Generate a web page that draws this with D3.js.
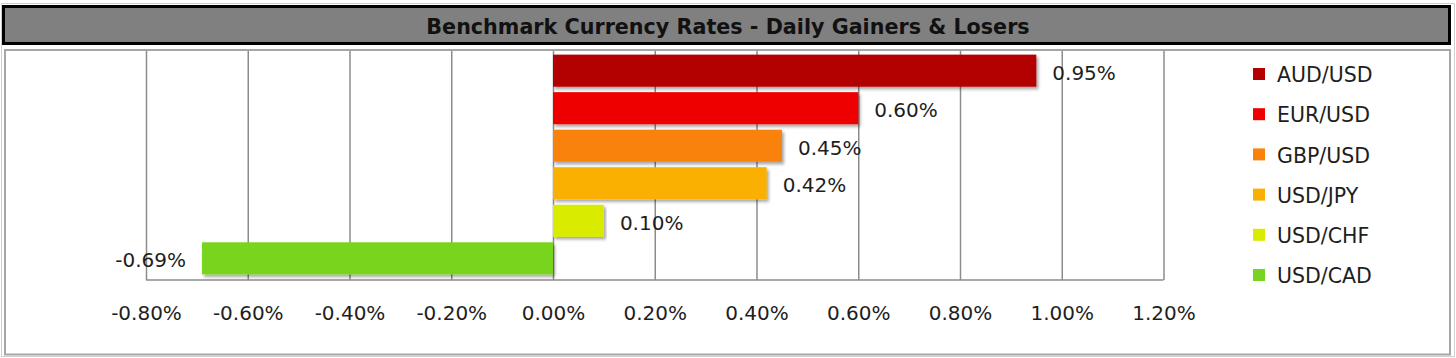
<!DOCTYPE html>
<html>
<head>
<meta charset="utf-8">
<script src="https://cdn.jsdelivr.net/npm/d3@7"></script>
<style>
    body { margin: 0; background: #fff; }
    text { font-family: "DejaVu Sans", Verdana, sans-serif; fill: #1e1e1e; }
</style>
</head>
<body>
<div id="chart"></div>
<script>
const TITLE = "Benchmark Currency Rates - Daily Gainers & Losers";
const pairs = ["AUD/USD", "EUR/USD", "GBP/USD", "USD/JPY", "USD/CHF", "USD/CAD"];
const changes = [0.0095, 0.0060, 0.0045, 0.0042, 0.0010, -0.0069];
const colors = ["#b30000", "#ee0000", "#f9820a", "#f9b000", "#d9ec00", "#78d41e"];
const xTicks = [-0.008, -0.006, -0.004, -0.002, 0, 0.002, 0.004, 0.006, 0.008, 0.010, 0.012];

const W = 1456, H = 358;
const PLOT = {left: 146, right: 1163.5, top: 51, bottom: 280};

// excel style percent, plain hyphen for negatives
const pct = d => d3.format('.2%')(d).replace('\u2212', '-');

const svg = d3.select('#chart')
    .append('svg')
    .attr('width', W)
    .attr('height', H);

// soft drop shadow under the bars
const defs = svg.append('defs');
defs.append('filter')
    .attr('id', 'shadow')
    .attr('x', '-5%').attr('y', '-20%')
    .attr('width', '110%').attr('height', '160%')
    .append('feDropShadow')
    .attr('dx', 2).attr('dy', 2.5)
    .attr('stdDeviation', 1.6)
    .attr('flood-color', '#000')
    .attr('flood-opacity', 0.35);

// outer frame
svg.append('rect')
    .attr('x', 1.5).attr('y', 3.5)
    .attr('width', 1453).attr('height', 353)
    .attr('fill', 'none')
    .attr('stroke', '#d0d0d0');

// plot panel
svg.append('rect')
    .attr('x', 5).attr('y', 50)
    .attr('width', 1445).attr('height', 304.5)
    .attr('fill', '#fff')
    .attr('stroke', '#a6a6a6')
    .attr('stroke-width', 2);

// title bar
svg.append('rect')
    .attr('x', 3.5).attr('y', 6.5)
    .attr('width', 1446).attr('height', 37)
    .attr('fill', '#808080')
    .attr('stroke', '#000')
    .attr('stroke-width', 3);

svg.append('text')
    .attr('x', 728)
    .attr('y', 34)
    .attr('text-anchor', 'middle')
    .style('font-weight', 'bold')
    .style('font-size', '20.7px')
    .style('fill', '#111')
    .text(TITLE);

const x = d3.scaleLinear()
    .domain([d3.min(xTicks), d3.max(xTicks)])
    .range([PLOT.left, PLOT.right]);

const y = d3.scaleBand()
    .domain(pairs)
    .range([52, 277])
    .paddingInner(0.145)
    .paddingOuter(0.07);

// vertical gridlines
svg.append('g')
    .attr('class', 'grid')
    .attr('transform', 'translate(0,' + PLOT.bottom + ')')
    .call(d3.axisBottom(x).tickValues(xTicks).tickSize(-(PLOT.bottom - PLOT.top)).tickFormat(''))
    .call(g => g.select('.domain').remove())
    .call(g => g.selectAll('line').attr('stroke', '#8c8c8c').attr('stroke-width', 1.5));

// bottom axis line
svg.append('line')
    .attr('x1', PLOT.left).attr('x2', PLOT.right)
    .attr('y1', PLOT.bottom).attr('y2', PLOT.bottom)
    .attr('stroke', '#8c8c8c')
    .attr('stroke-width', 1.5);

// tick labels
svg.append('g')
    .attr('class', 'x-axis')
    .attr('transform', 'translate(0,' + PLOT.bottom + ')')
    .call(d3.axisBottom(x).tickValues(xTicks).tickSize(0).tickPadding(0).tickFormat(pct))
    .call(g => g.select('.domain').remove())
    .call(g => g.selectAll('text')
        .attr('y', 33)
        .attr('dy', '0.35em')
        .style('font-size', '20px')
        .style('font-family', '"DejaVu Sans", Verdana, sans-serif')
        .style('fill', '#1e1e1e'));

// bars
svg.selectAll('rect.bar')
    .data(changes)
    .enter()
    .append('rect')
    .attr('class', 'bar')
    .attr('x', d => x(Math.min(0, d)))
    .attr('y', (d, i) => y(pairs[i]))
    .attr('width', d => Math.abs(x(d) - x(0)))
    .attr('height', y.bandwidth())
    .attr('fill', (d, i) => colors[i])
    .attr('filter', 'url(#shadow)');

// value labels
svg.selectAll('text.value')
    .data(changes)
    .enter()
    .append('text')
    .attr('class', 'value')
    .attr('x', d => d >= 0 ? x(d) + 16 : x(d) - 16)
    .attr('y', (d, i) => y(pairs[i]) + y.bandwidth() / 2 + 2)
    .attr('dy', '0.35em')
    .attr('text-anchor', d => d >= 0 ? 'start' : 'end')
    .style('font-size', '20px')
    .text(pct);

// legend
const legend = svg.append('g')
    .attr('transform', 'translate(1253,74)');

const item = legend.selectAll('g')
    .data(pairs)
    .enter()
    .append('g')
    .attr('transform', (d, i) => 'translate(0,' + (i * 40.2) + ')');

item.append('rect')
    .attr('x', 0).attr('y', -6)
    .attr('width', 12).attr('height', 12)
    .attr('fill', (d, i) => colors[i]);

item.append('text')
    .attr('x', 24)
    .attr('y', 1)
    .attr('dy', '0.35em')
    .style('font-size', '20.5px')
    .text(d => d);
</script>
</body>
</html>
